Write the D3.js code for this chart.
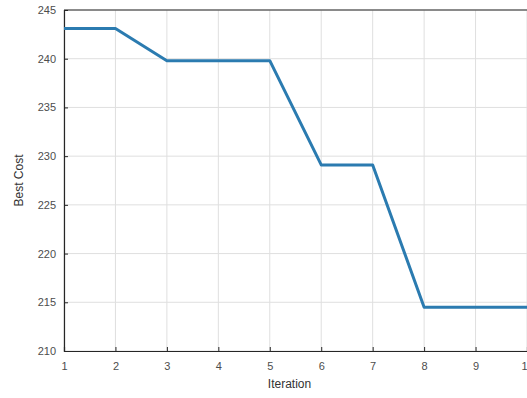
<!DOCTYPE html>
<html>
<head>
<meta charset="utf-8">
<script src="https://cdn.jsdelivr.net/npm/d3@7"></script>
<style>
  body { margin: 0; background: #fff; }
  svg { display: block; font-family: "Liberation Sans", Arial, sans-serif; }
  .axis text { fill: #4d4d4d; font-size: 11px; }
  .axis path, .axis line { stroke: #262626; }
  .grid line { stroke: #dfdfdf; }
</style>
</head>
<body>
<div class="chart"></div>
<script>
// iteration numbers and best cost per iteration
const iterations = [1, 2, 3, 4, 5, 6, 7, 8, 9, 10];
const bestCost = [243.1, 243.1, 239.8, 239.8, 239.8, 229.1, 229.1, 214.5, 214.5, 214.5];
const yTicks = [210, 215, 220, 225, 230, 235, 240, 245];

const margin = {top: 10, left: 64, right: 0, bottom: 47};
const width = 463;
const height = 341;

const svg = d3.select(".chart").append("svg")
    .attr("width", 527)
    .attr("height", 398)
  .append("g")
    .attr("transform", "translate(" + margin.left + "," + margin.top + ")");

const xScale = d3.scaleLinear().domain([1, 10]).range([0, width]);
const yScale = d3.scaleLinear().domain([210, 245]).range([height, 0]);

// grid
svg.append("g").attr("class", "grid")
  .selectAll("line").data(iterations).join("line")
    .attr("x1", d => xScale(d)).attr("x2", d => xScale(d))
    .attr("y1", 0).attr("y2", height);
svg.append("g").attr("class", "grid")
  .selectAll("line").data(yTicks).join("line")
    .attr("x1", 0).attr("x2", width)
    .attr("y1", d => yScale(d)).attr("y2", d => yScale(d));

// box top edge
svg.append("line")
    .attr("x1", 0).attr("x2", width)
    .attr("y1", 0).attr("y2", 0)
    .attr("stroke", "#262626").attr("stroke-width", 1);

// axes
const xAxis = d3.axisBottom(xScale).tickValues(iterations).tickSize(-4).tickPadding(11).tickFormat(d3.format("d"));
const yAxis = d3.axisLeft(yScale).tickValues(yTicks).tickSize(-4).tickPadding(8);

svg.append("g").attr("class", "axis x-axis")
    .attr("transform", `translate(0, ${height})`)
    .call(xAxis)
    .call(g => g.select(".domain").attr("stroke-width", 1.2));

svg.append("g").attr("class", "axis y-axis")
    .call(yAxis)
    .call(g => g.select(".domain").attr("stroke-width", 1.2));

// line
const line = d3.line()
    .x((d, i) => xScale(iterations[i]))
    .y(d => yScale(d));

svg.append("path")
    .datum(bestCost)
    .attr("d", line)
    .attr("fill", "none")
    .attr("stroke", "#2b7bb0")
    .attr("stroke-width", 3)
    .attr("stroke-linejoin", "round");

// labels
svg.append("text")
    .attr("x", width / 2 - 6)
    .attr("y", height + 37)
    .attr("text-anchor", "middle")
    .attr("fill", "#333")
    .style("font-size", "12px")
    .text("Iteration");

svg.append("text")
    .attr("transform", `translate(${-41}, ${height / 2}) rotate(-90)`)
    .attr("text-anchor", "middle")
    .attr("fill", "#333")
    .style("font-size", "12px")
    .text("Best Cost");
</script>
</body>
</html>
